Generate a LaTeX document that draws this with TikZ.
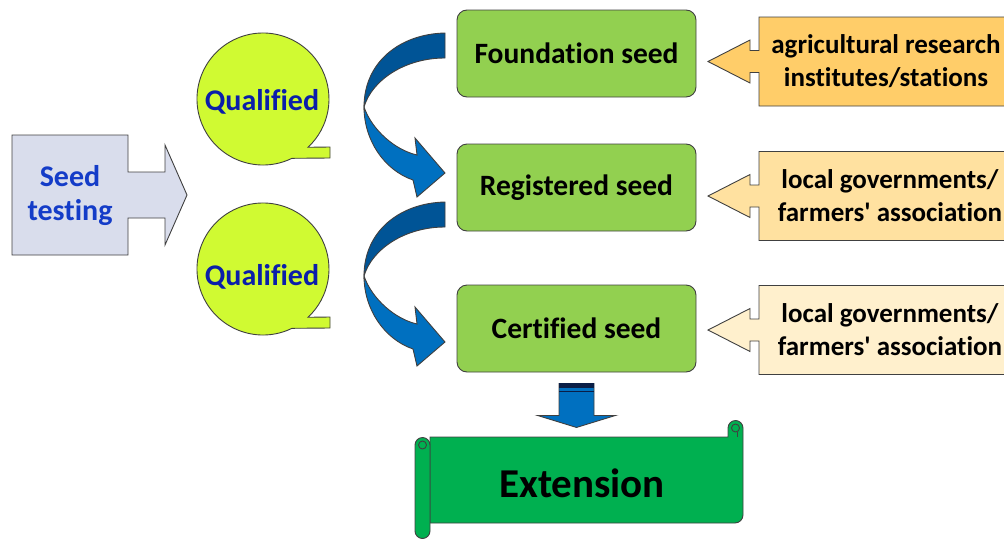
\documentclass[tikz,border=0pt]{standalone}
\usepackage{fontspec}
\setmainfont{Carlito}[Ligatures = {CommonOff, TeXOff}]
\usetikzlibrary{calc}

\definecolor{edgegrey}{RGB}{64,64,64}
\definecolor{testfill}{RGB}{217,221,236}
\definecolor{testblue}{RGB}{20,60,200}
\definecolor{qualfill}{RGB}{208,250,50}
\definecolor{qualblue}{RGB}{10,30,170}
\definecolor{seedgreen}{RGB}{146,208,80}
\definecolor{darkblue}{RGB}{0,84,150}
\definecolor{midblue}{RGB}{0,112,192}
\definecolor{navy}{RGB}{10,30,70}
\definecolor{orangeA}{RGB}{255,205,105}
\definecolor{orangeB}{RGB}{255,225,160}
\definecolor{orangeC}{RGB}{255,240,205}
\definecolor{extgreen}{RGB}{0,176,80}

\begin{document}
\begin{tikzpicture}[x = 1pt, y = -1pt, > = latex,
	outline/.style = {draw = edgegrey, line width = 0.9pt},
	seedbox/.style = {outline, fill = seedgreen, rounded corners = 10pt, minimum width = 239pt, minimum height = 87pt, font = \fontsize{29.5}{34}\selectfont\bfseries},
	sidetext/.style = {align = center, font = \fontsize{27}{33}\selectfont\bfseries},
	qualtext/.style = {text = qualblue, font = \fontsize{30}{34}\selectfont\bfseries}]

	\useasboundingbox (0, 0) rectangle (1004, 541);

	% Seed testing

	\draw [outline, fill = testfill] (12, 135) -- (128, 135) -- (128, 172) -- (165, 172) -- (165, 145) -- (187, 195) -- (165, 245) -- (165, 218) -- (128, 218) -- (128, 255) -- (12, 255) -- cycle;
	\node [align = center, text = testblue, font = \fontsize{30}{34}\selectfont\bfseries] (test) at (70, 196) {Seed\\testing};

	% Qualified bubbles

	\foreach \y/\t/\n in {99/102/1, 269/277/2}
	{
		\draw [outline, fill = qualfill, shift = {(263, \y)}] (64:66) arc [start angle = 64, end angle = 407, radius = 66] -- (67, 48) -- (67, 59) -- cycle;
		\node [qualtext] (qual\n) at (262, \t) {Qualified};
	}

	% Seed classes

	\node [seedbox] (found) at (576.5, 53.5) {Foundation seed};
	\node [seedbox] (regis) at (576.5, 187.5) {Registered seed};
	\node [seedbox] (certif) at (576.5, 328.5) {Certified seed};

	% Curved arrows

	\foreach \y in {0, 169}
	{
		\begin{scope}[shift = {(0, \y)}]
			\draw [outline, fill = darkblue] (445, 33) .. controls (400, 34) and (364, 62) .. (364, 107) .. controls (372, 80) and (405, 58) .. (445, 58) -- cycle;
			\draw [outline, fill = midblue] (364, 107) .. controls (364, 140) and (384, 170) .. (413, 180) -- (417, 197) -- (445, 173) -- (415, 138) -- (417, 155) .. controls (395, 150) and (372, 130) .. (364, 107) -- cycle;
		\end{scope}
	}

	% Producers

	\foreach \y/\c in {61.5/orangeA, 196/orangeB, 330/orangeC}
		\draw [outline, fill = \c, shift = {(759, \y)}] (0, -44.5) -- (0, -11) -- (-9, -11) -- (-9, -21.5) -- (-51, 0) -- (-9, 21.5) -- (-9, 11) -- (0, 11) -- (0, 44.5) -- (260, 44.5) -- (260, -44.5) -- cycle;

	\node [sidetext] (inst) at (886, 61.5) {agricultural research\\institutes/stations};
	\node [sidetext] (gov) at (890, 196) {local governments/\\farmers' association};
	\node [sidetext] (farm) at (890, 330) {local governments/\\farmers' association};

	% Extension

	\draw [outline, fill = extgreen] (430, 437) -- (728, 437) -- (728, 428) arc [start angle = 180, end angle = 360, radius = 7.5] -- (743, 515) arc [start angle = 0, end angle = 90, radius = 8] -- (430, 523) -- cycle;
	\draw [outline, fill = extgreen] (415, 445) arc [start angle = 180, end angle = 360, radius = 7.5] -- (430, 531) arc [start angle = 0, end angle = 180, radius = 7.5] -- cycle;
	\draw [outline] (422.5, 445) circle [radius = 4];
	\draw [outline] (735.5, 428) circle [radius = 4];
	\draw [outline] (737, 432) -- (737, 437);
	\node [font = \fontsize{41}{46}\selectfont\bfseries] (ext) at (582, 483) {Extension};

	% Down arrow

	\begin{scope}[shift = {(certif.south)}]
		\draw [outline, fill = midblue] (-17.5, 11) -- (17.5, 11) -- (17.5, 43) -- (39, 43) -- (0, 55) -- (-39, 43) -- (-17.5, 43) -- cycle;
		\fill [navy] (-17.5, 11) rectangle (17.5, 16);
		\draw [navy, thick] (-17.5, 19) -- (17.5, 19);
	\end{scope}

\end{tikzpicture}
\end{document}
